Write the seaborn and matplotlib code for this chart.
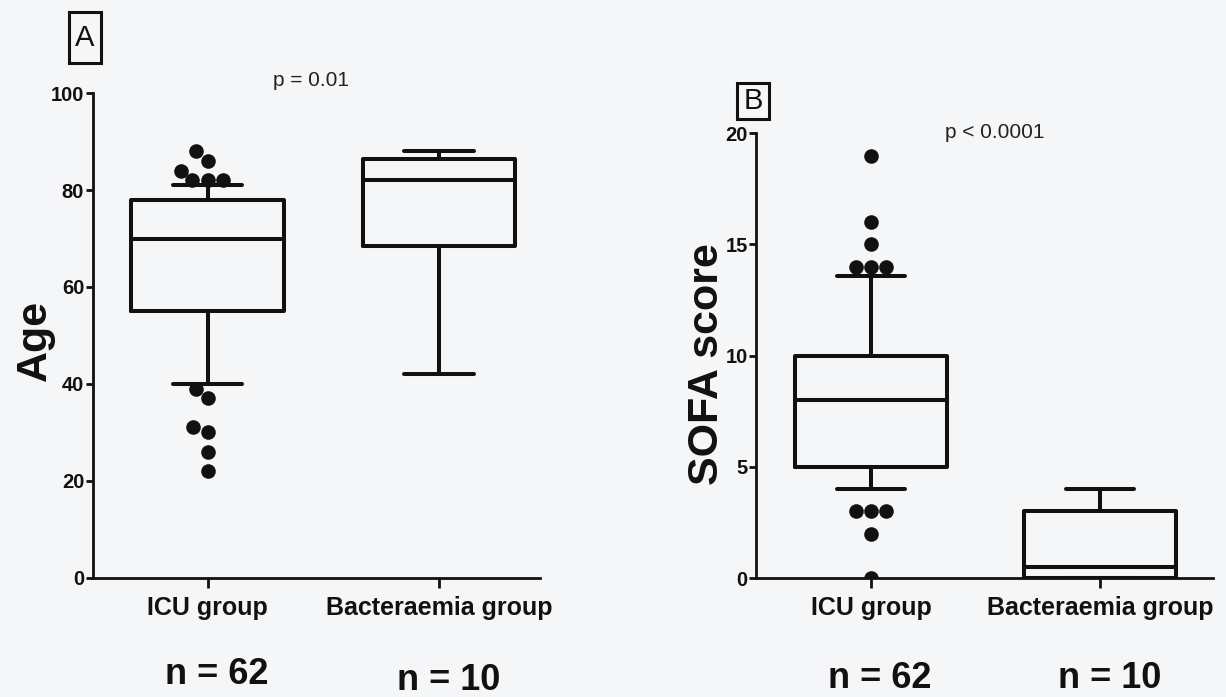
import numpy as np
import matplotlib
matplotlib.use("Agg")
import matplotlib.pyplot as plt
import matplotlib.transforms as mtransforms
from matplotlib.patches import Rectangle
import seaborn as sns

# ---- data -------------------------------------------------------------
groups = ["ICU group", "Bacteraemia group"]
group_n = [62, 10]

icu_age = [22, 26, 30, 31, 37, 39, 40, 40, 42, 45, 47, 49, 51, 53, 54, 55, 55,
           57, 58, 59, 60, 61, 62, 63, 64, 65, 66, 67, 68, 69, 70, 70,
           71, 71, 72, 72, 73, 73, 74, 74, 75, 75, 76, 76, 77, 78, 78,
           79, 79, 79, 80, 80, 80, 81, 81, 81, 82, 82, 82, 84, 86, 88]
bact_age = [42, 60, 68, 70, 81, 83, 85, 87, 88, 88]

icu_sofa = [0, 2, 3, 3, 3, 4, 4, 4, 4, 4, 5, 5, 5, 5, 5, 5, 5,
            6, 6, 6, 6, 6, 7, 7, 7, 7, 7, 7, 8, 8, 8, 8,
            8, 8, 9, 9, 9, 9, 9, 9, 10, 10, 10, 10, 10, 10, 10,
            11, 11, 11, 12, 12, 12, 13, 13.6, 13.6, 14, 14, 14, 15, 16, 19]
bact_sofa = [0, 0, 0, 0, 0, 1, 3, 3, 3, 4]

p_values = ["p = 0.01", "p < 0.0001"]
panel_tags = ["A", "B"]
y_labels = ["Age", "SOFA score"]
y_ticks_age = [0, 20, 40, 60, 80, 100]
y_ticks_sofa = [0, 5, 10, 15, 20]

# whisker ranges: 10-90 percentile for the large group, full range for n = 10
whis_icu = (10, 90)
whis_bact = (0, 100)

# ---- style ------------------------------------------------------------
sns.set_style("ticks")
plt.rcParams["font.family"] = ["Liberation Sans", "DejaVu Sans"]
BG = "#f5f6f8"
INK = "#111111"

W, H = 1226, 697
fig = plt.figure(figsize=(W / 100, H / 100), dpi=100, facecolor=BG)


def px_rect(left, top, right, bottom):
    """Figure-fraction rectangle from pixel edges."""
    return [left / W, 1 - bottom / H, (right - left) / W, (bottom - top) / H]


def outliers(values, whis):
    v = np.asarray(values, dtype=float)
    lo, hi = np.percentile(v, whis)
    wlo = v[v >= lo].min()
    whi = v[v <= hi].max()
    return v[(v < wlo) | (v > whi)]


def panel(ax, icu, bact, ylim, yticks, ylabel, xlim):
    box_kw = dict(order=groups, width=0.66, color=INK, fill=False,
                  linewidth=2.9, showfliers=False, capwidths=0.3, ax=ax)
    sns.boxplot(x=[groups[0]] * len(icu), y=icu, whis=whis_icu, **box_kw)
    sns.boxplot(x=[groups[1]] * len(bact), y=bact, whis=whis_bact, **box_kw)

    fl_icu = outliers(icu, whis_icu)
    fl_bact = outliers(bact, whis_bact)
    fx = [groups[0]] * len(fl_icu) + [groups[1]] * len(fl_bact)
    fy = list(fl_icu) + list(fl_bact)
    sns.swarmplot(x=fx, y=fy, order=groups, color=INK, size=10.5,
                  linewidth=0, ax=ax)

    ax.set_facecolor(BG)
    ax.set_xlim(*xlim)
    ax.set_ylim(*ylim)
    ax.set_yticks(yticks)
    ax.set_xlabel("")
    ax.set_ylabel(ylabel, fontsize=31, fontweight="bold", color=INK)
    sns.despine(ax=ax)
    for s in ("left", "bottom"):
        ax.spines[s].set_linewidth(2.0)
        ax.spines[s].set_color(INK)
    ax.tick_params(axis="y", length=5, width=2, pad=1, labelsize=14.5,
                   colors=INK)
    ax.tick_params(axis="x", length=7, width=2, pad=6, labelsize=18,
                   colors=INK)
    for lab in ax.get_xticklabels() + ax.get_yticklabels():
        lab.set_fontweight("bold")


# Panel A: age
axA = fig.add_axes(px_rect(92.5, 93.3, 540, 577.5))
panel(axA, icu_age, bact_age, (0, 100), y_ticks_age, y_labels[0],
      (-0.497, 1.436))
axA.yaxis.set_label_coords(-0.085, 0.49)

# Panel B: SOFA score
axB = fig.add_axes(px_rect(756, 133.3, 1213, 578))
panel(axB, icu_sofa, bact_sofa, (0, 20), y_ticks_sofa, y_labels[1],
      (-0.502, 1.493))
axB.yaxis.set_label_coords(-0.064, 0.48)

# group sizes under each category
for ax, ys in ((axA, (-0.200, -0.212)), (axB, (-0.225, -0.225))):
    tr = mtransforms.blended_transform_factory(ax.transData, ax.transAxes)
    for i, n in enumerate(group_n):
        ax.text(i + 0.04, ys[i], f"n = {n}", transform=tr, ha="center",
                va="center", fontsize=26, fontweight="bold", color=INK)

# p-values
fig.text(311 / W, 1 - 80 / H, p_values[0], ha="center", va="center",
         fontsize=15, color="#222222")
fig.text(995 / W, 1 - 133 / H, p_values[1], ha="center", va="center",
         fontsize=15, color="#222222")

# boxed panel tags
for tag, (l, t, r, b) in zip(panel_tags, [(69, 12, 101, 63), (737, 83, 769, 119)]):
    fig.patches.append(Rectangle((l / W, 1 - b / H), (r - l) / W, (b - t) / H,
                                 transform=fig.transFigure, fill=False,
                                 edgecolor=INK, linewidth=2.2))
    fig.text((l + r) / 2 / W, 1 - (t + b) / 2 / H, tag, ha="center",
             va="center", fontsize=21, color=INK)

fig.savefig("out.png", dpi=100, facecolor=BG)
